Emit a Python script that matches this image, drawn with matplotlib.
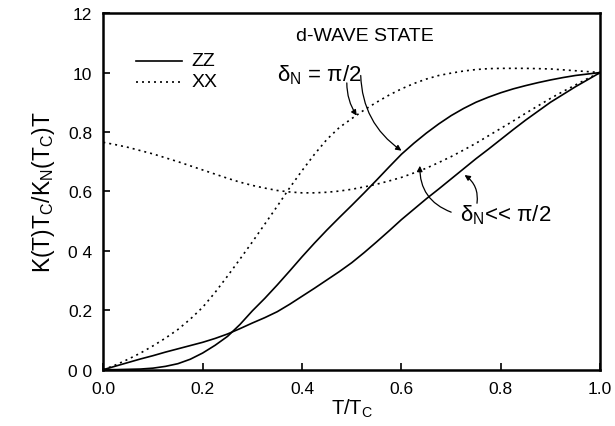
import numpy as np
import matplotlib
matplotlib.use('Agg')
import matplotlib.pyplot as plt

plt.rcParams['font.family'] = ['Liberation Sans', 'DejaVu Sans']
plt.rcParams['mathtext.fontset'] = 'custom'
plt.rcParams['mathtext.rm'] = 'Liberation Sans'
plt.rcParams['mathtext.it'] = 'Liberation Sans:italic'

# temperature grid T/Tc
t = [0.0, 0.025, 0.05, 0.075, 0.1, 0.125, 0.15, 0.175, 0.2, 0.225, 0.25,
     0.275, 0.3, 0.325, 0.35, 0.375, 0.4, 0.425, 0.45, 0.475, 0.5,
     0.525, 0.55, 0.575, 0.6, 0.625, 0.65, 0.675, 0.7, 0.725, 0.75,
     0.775, 0.8, 0.825, 0.85, 0.875, 0.9, 0.925, 0.95, 0.975, 1.0]

# ZZ component, delta_N = pi/2
zz_half = [0.0, 0.0, 0.001, 0.002, 0.005, 0.011, 0.02, 0.035, 0.056, 0.082, 0.112,
           0.152, 0.198, 0.24, 0.285, 0.332, 0.38, 0.426, 0.47, 0.512, 0.553,
           0.595, 0.638, 0.682, 0.725, 0.762, 0.796, 0.827, 0.855, 0.879, 0.9,
           0.917, 0.932, 0.945, 0.956, 0.966, 0.975, 0.983, 0.99, 0.995, 1.0]
# ZZ component, delta_N << pi/2
zz_small = [0.0, 0.012, 0.024, 0.036, 0.047, 0.059, 0.07, 0.081, 0.092, 0.105, 0.12,
            0.138, 0.157, 0.175, 0.195, 0.22, 0.247, 0.274, 0.302, 0.33, 0.36,
            0.394, 0.43, 0.467, 0.505, 0.54, 0.575, 0.608, 0.642, 0.676, 0.71,
            0.742, 0.775, 0.808, 0.84, 0.87, 0.9, 0.926, 0.952, 0.976, 1.0]
# XX component, delta_N = pi/2
xx_half = [0.0, 0.016, 0.035, 0.056, 0.08, 0.106, 0.135, 0.17, 0.21, 0.26, 0.315,
           0.372, 0.43, 0.49, 0.55, 0.612, 0.67, 0.725, 0.775, 0.815, 0.845,
           0.874, 0.9, 0.924, 0.945, 0.963, 0.978, 0.99, 0.998, 1.005, 1.01,
           1.013, 1.014, 1.014, 1.014, 1.013, 1.012, 1.009, 1.006, 1.003, 1.0]
# XX component, delta_N << pi/2
xx_small = [0.765, 0.757, 0.748, 0.737, 0.726, 0.713, 0.7, 0.686, 0.672, 0.658, 0.644,
            0.631, 0.62, 0.611, 0.603, 0.598, 0.595, 0.595, 0.597, 0.601, 0.607,
            0.615, 0.624, 0.635, 0.647, 0.662, 0.678, 0.697, 0.717, 0.739, 0.762,
            0.787, 0.812, 0.837, 0.863, 0.888, 0.913, 0.936, 0.958, 0.98, 1.0]

xticks = [0.0, 0.2, 0.4, 0.6, 0.8, 1.0]
xticklabels = ['0.0', '0.2', '0.4', '0.6', '0.8', '1.0']
yticks = [0.0, 0.2, 0.4, 0.6, 0.8, 1.0, 1.2]
yticklabels = ['0 0', '0.2', '0 4', '0.6', '0.8', '10', '12']

fig = plt.figure(figsize=(6.15, 4.27), dpi=100)
ax = fig.add_axes([0.168, 0.132, 0.808, 0.835])

dot = (0, (1.2, 2.4))
lw = 1.2
ax.plot(t, zz_half, color='black', lw=lw)
ax.plot(t, zz_small, color='black', lw=lw)
ax.plot(t, xx_half, color='black', lw=lw, linestyle=dot)
ax.plot(t, xx_small, color='black', lw=lw, linestyle=dot)

ax.set_xlim(0, 1.0)
ax.set_ylim(0, 1.2)
ax.set_xticks(xticks)
ax.set_xticklabels(xticklabels)
ax.set_yticks(yticks)
ax.set_yticklabels(yticklabels)
ax.tick_params(direction='in', length=5, width=1.2, labelsize=12.5, pad=8)
for s in ax.spines.values():
    s.set_linewidth(1.8)

ax.set_xlabel('T/T$_\\mathrm{C}$', fontsize=14.5, labelpad=1)
ax.set_ylabel('K(T)T$_\\mathrm{C}$/K$_\\mathrm{N}$(T$_\\mathrm{C}$)T', fontsize=16.5, labelpad=8)

# legend drawn by hand
ax.plot([0.066, 0.159], [1.04, 1.04], color='black', lw=lw)
ax.text(0.178, 1.04, 'ZZ', fontsize=14, va='center')
ax.plot([0.066, 0.159], [0.969, 0.969], color='black', lw=lw, linestyle=dot)
ax.text(0.178, 0.969, 'XX', fontsize=14, va='center')

ax.text(0.526, 1.124, 'd-WAVE STATE', fontsize=14, ha='center', va='center')

ax.text(0.35, 0.995, 'δ$_\\mathrm{N}$ = π/2', fontsize=16, va='center')
arrow = dict(arrowstyle='-|>', color='black', lw=0.9, mutation_scale=8, shrinkA=0, shrinkB=0)
ax.annotate('', xy=(0.51, 0.855), xytext=(0.49, 0.965),
            arrowprops=dict(arrow, connectionstyle='arc3,rad=0.15'))
ax.annotate('', xy=(0.60, 0.737), xytext=(0.518, 0.99),
            arrowprops=dict(arrow, connectionstyle='arc3,rad=0.25'))

ax.text(0.717, 0.524, 'δ$_\\mathrm{N}$<< π/2', fontsize=16, va='center')
ax.annotate('', xy=(0.637, 0.686), xytext=(0.70, 0.53),
            arrowprops=dict(arrow, connectionstyle='arc3,rad=-0.35'))
ax.annotate('', xy=(0.727, 0.655), xytext=(0.752, 0.56),
            arrowprops=dict(arrow, connectionstyle='arc3,rad=0.3'))

fig.savefig('out.png', dpi=100)
